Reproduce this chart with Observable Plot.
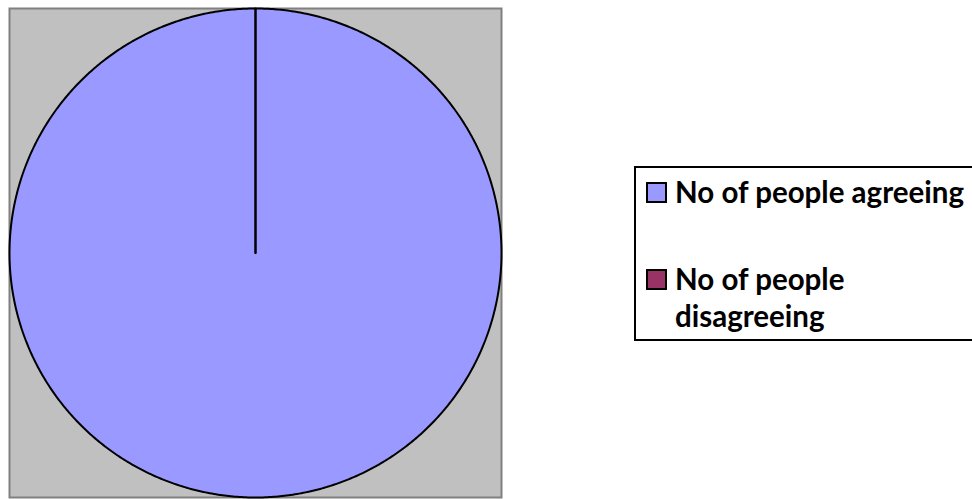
<!DOCTYPE html>
<html>
<head>
<meta charset="utf-8">
<script src="https://cdn.jsdelivr.net/npm/d3@7"></script>
<script src="https://cdn.jsdelivr.net/npm/@observablehq/plot@0.6"></script>
<style>
  html, body { margin: 0; padding: 0; background: #ffffff; }
  #wrap { position: relative; width: 972px; height: 499px; overflow: hidden; }
  #legend { position: absolute; left: 634px; top: 166px; width: 360px; height: 171px;
            border: 2px solid #000; box-sizing: content-box; background: #fff; }
  .item { position: absolute; left: 0; }
  .sw { position: absolute; left: 10px; width: 17px; height: 17px; border: 2px solid #000; }
  .lab { position: absolute; left: 39px; width: 300px; font-family: Lato, "Open Sans", sans-serif;
         font-weight: bold; font-size: 29.5px; line-height: 37px; color: #000; }
</style>
</head>
<body>
<div id="wrap"></div>
<script>
const categories = ["No of people agreeing", "No of people disagreeing"];
const values = [100, 0];
const colors = ["#9999ff", "#993366"];

const data = categories.map((c, i) => ({name: c, value: values[i]}));
const arcs = d3.pie().value(d => d.value).sort(null)(data);

// build slice outlines from the pie angles
const pts = [];
for (const a of arcs) {
  const name = a.data.name;
  pts.push({name, x: 0, y: 0});
  const n = Math.max(1, Math.ceil((a.endAngle - a.startAngle) / (Math.PI / 360)));
  for (let k = 0; k <= n; k++) {
    const t = a.startAngle + (a.endAngle - a.startAngle) * k / n;
    pts.push({name, x: Math.sin(t), y: Math.cos(t)});
  }
}

const chart = Plot.plot({
  width: 972,
  height: 499,
  marginLeft: 9,
  marginTop: 8,
  marginRight: 471,
  marginBottom: 2,
  x: {domain: [-1, 1], axis: null},
  y: {domain: [-1, 1], axis: null},
  color: {domain: categories, range: colors},
  marks: [
    Plot.frame({fill: "#c0c0c0", stroke: "#808080", strokeWidth: 2}),
    Plot.line(pts, {x: "x", y: "y", z: "name", fill: "name", stroke: "#000", strokeWidth: 2,
                    curve: "linear-closed", strokeLinejoin: "round"})
  ]
});

const wrap = document.getElementById("wrap");
wrap.appendChild(chart);

const legend = document.createElement("div");
legend.id = "legend";
const rowTops = [5, 92];
categories.forEach((c, i) => {
  const item = document.createElement("div");
  item.className = "item";
  item.style.top = rowTops[i] + "px";
  const sw = document.createElement("div");
  sw.className = "sw";
  sw.style.top = "9px";
  sw.style.background = colors[i];
  const lab = document.createElement("div");
  lab.className = "lab";
  lab.style.top = "0px";
  lab.textContent = c;
  item.appendChild(sw);
  item.appendChild(lab);
  legend.appendChild(item);
});
wrap.appendChild(legend);
</script>
</body>
</html>
